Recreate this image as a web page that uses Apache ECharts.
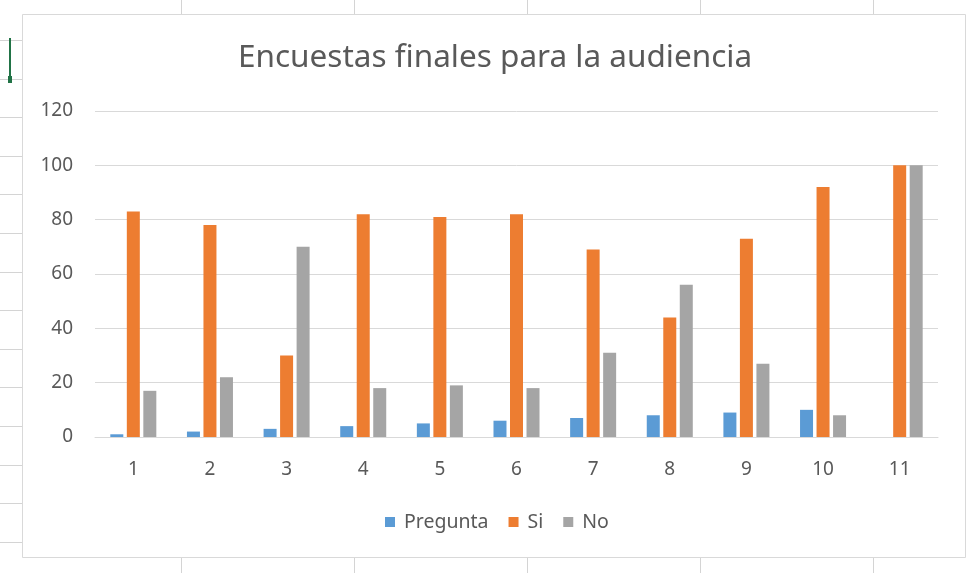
<!DOCTYPE html>
<html>
<head>
<meta charset="utf-8">
<title>Encuestas finales para la audiencia</title>
<script src="https://cdn.jsdelivr.net/npm/echarts@6/dist/echarts.min.js"></script>
<style>
  html, body { margin: 0; padding: 0; background: #fff; }
  #main { width: 967px; height: 573px; }
</style>
</head>
<body>
<div id="main"></div>
<script>
// datos de la encuesta
var categorias = ['1', '2', '3', '4', '5', '6', '7', '8', '9', '10', '11'];
var pregunta = [1, 2, 3, 4, 5, 6, 7, 8, 9, 10, null];
var si = [83, 78, 30, 82, 81, 82, 69, 44, 73, 92, 100];
var no = [17, 22, 70, 18, 19, 18, 31, 56, 27, 8, 100];
var ticksY = [0, 20, 40, 60, 80, 100, 120];

var gris = '#595959';
var linea = '#D9D9D9';
var fuente = 'Noto Sans';

// fondo de la hoja de calculo (lineas de celdas alrededor del grafico)
var fondo = [];
[181, 354, 527, 700, 873].forEach(function (x) {
  fondo.push({ type: 'line', shape: { x1: x + 0.5, y1: 0, x2: x + 0.5, y2: 14 }, style: { stroke: '#d4d4d4', lineWidth: 1 } });
  fondo.push({ type: 'line', shape: { x1: x + 0.5, y1: 558, x2: x + 0.5, y2: 573 }, style: { stroke: '#d4d4d4', lineWidth: 1 } });
});
for (var k = 0; k < 14; k++) {
  var y = Math.round(40 + 38.6 * k) + 0.5;
  fondo.push({ type: 'line', shape: { x1: 0, y1: y, x2: 22, y2: y }, style: { stroke: '#d4d4d4', lineWidth: 1 } });
}
fondo.push({ type: 'rect', shape: { x: 9, y: 38, width: 2, height: 45 }, style: { fill: '#217346' } });
fondo.push({ type: 'rect', shape: { x: 8, y: 76, width: 4, height: 7 }, style: { fill: '#217346' } });
fondo.push({ type: 'rect', shape: { x: 22.5, y: 14.5, width: 943, height: 543 }, style: { fill: 'none', stroke: linea, lineWidth: 1 } });

var myChart = echarts.init(document.getElementById('main'));
var option = {
  backgroundColor: '#fff',
  animation: false,
  textStyle: { fontFamily: fuente },
  color: ['#5B9BD5', '#ED7D31', '#A5A5A5'],
  graphic: fondo,
  title: {
    text: 'Encuestas finales para la audiencia',
    left: 233,
    top: 37,
    textStyle: { color: gris, fontSize: 31.5, fontWeight: 'normal', fontFamily: fuente }
  },
  legend: {
    data: ['Pregunta', 'Si', 'No'],
    left: 380,
    top: 507,
    icon: 'rect',
    itemWidth: 10,
    itemHeight: 10,
    itemGap: 20,
    textStyle: { color: gris, fontSize: 19.5, fontFamily: fuente, padding: [0, 0, 0, 4] }
  },
  grid: { left: 95, right: 29, top: 111, bottom: 136 },
  xAxis: {
    type: 'category',
    data: categorias,
    axisLine: { lineStyle: { color: linea, width: 1 } },
    axisTick: { show: false },
    axisLabel: { color: gris, fontSize: 19, margin: 23, fontFamily: fuente }
  },
  yAxis: {
    type: 'value',
    min: ticksY[0],
    max: ticksY[ticksY.length - 1],
    interval: 20,
    axisLine: { show: false },
    axisTick: { show: false },
    splitLine: { lineStyle: { color: linea, width: 1 } },
    axisLabel: { color: gris, fontSize: 19, margin: 22, fontFamily: fuente }
  },
  series: [
    { name: 'Pregunta', type: 'bar', data: pregunta, barWidth: 13, barGap: '27%' },
    { name: 'Si', type: 'bar', data: si, barWidth: 13, barGap: '27%' },
    { name: 'No', type: 'bar', data: no, barWidth: 13, barGap: '27%' }
  ]
};
myChart.setOption(option);
</script>
</body>
</html>
